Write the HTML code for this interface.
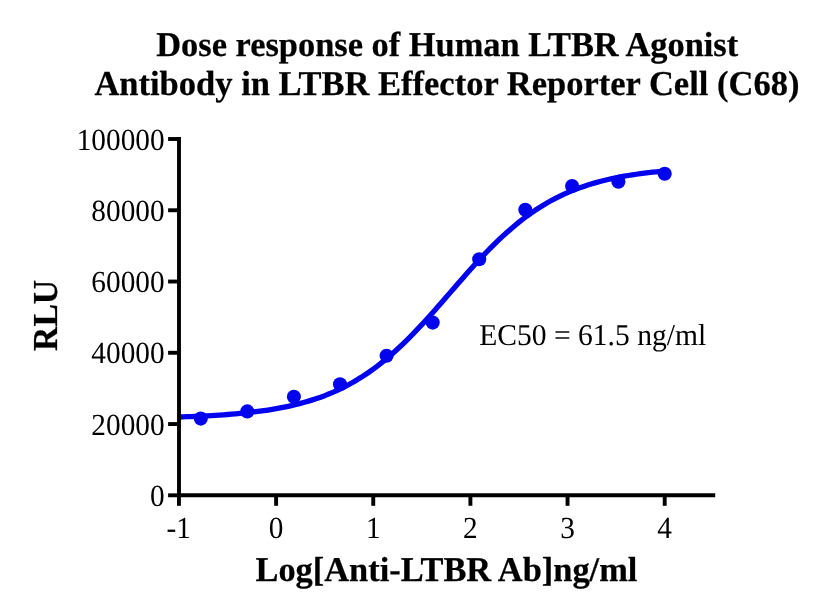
<!DOCTYPE html>
<html lang="en">
<head>
<meta charset="utf-8">
<title>Dose response of Human LTBR Agonist Antibody in LTBR Effector Reporter Cell (C68)</title>
<style>
html,body{margin:0;padding:0;background:#fff;}
body{width:824px;height:613px;overflow:hidden;font-family:"Liberation Serif",serif;}
svg{display:block;}
text{font-family:"Liberation Serif",serif;fill:#000;text-rendering:geometricPrecision;}
.b{font-weight:bold;font-size:34.4px;stroke:#000;stroke-width:0.25px;stroke-linejoin:round;}
.n{font-size:29.3px;}
</style>
</head>
<body>
<svg width="824" height="613" viewBox="0 0 824 613">
<rect width="824" height="613" fill="#fff"/>
<g class="b" text-anchor="middle">
<text transform="translate(447.2,56) scale(1,1.01)">Dose response of Human LTBR Agonist</text>
<text transform="translate(446.9,95) scale(1,1.01)" style="font-size:34.53px">Antibody in LTBR Effector Reporter Cell (C68)</text>
<text transform="translate(446.4,581) scale(1,1.01)">Log[Anti-LTBR Ab]ng/ml</text>
<text transform="translate(57,315.4) rotate(-90) scale(0.978,1.02)">RLU</text>
</g>
<g class="n">
<text transform="translate(164.6,506.00) scale(1,1.047)" text-anchor="end">0</text>
<text transform="translate(164.6,434.74) scale(1,1.047)" text-anchor="end">20000</text>
<text transform="translate(164.6,363.48) scale(1,1.047)" text-anchor="end">40000</text>
<text transform="translate(164.6,292.22) scale(1,1.047)" text-anchor="end">60000</text>
<text transform="translate(164.6,220.96) scale(1,1.047)" text-anchor="end">80000</text>
<text transform="translate(164.6,149.70) scale(1,1.047)" text-anchor="end">100000</text>
<text transform="translate(178.65,537.8) scale(1,1.047)" text-anchor="middle">-1</text>
<text transform="translate(276.10,537.8) scale(1,1.047)" text-anchor="middle">0</text>
<text transform="translate(373.25,537.8) scale(1,1.047)" text-anchor="middle">1</text>
<text transform="translate(470.40,537.8) scale(1,1.047)" text-anchor="middle">2</text>
<text transform="translate(567.55,537.8) scale(1,1.047)" text-anchor="middle">3</text>
<text transform="translate(664.70,537.8) scale(1,1.047)" text-anchor="middle">4</text>
<text transform="translate(479.15,344.8) scale(1,1.022)" style="font-size:29.58px">EC50 = 61.5 ng/ml</text>
</g>
<path d="M178.95,416.98 L183.00,416.85 L187.05,416.70 L191.09,416.55 L195.14,416.38 L199.19,416.20 L203.24,416.01 L207.29,415.80 L211.33,415.58 L215.38,415.34 L219.43,415.08 L223.48,414.80 L227.53,414.50 L231.57,414.18 L235.62,413.84 L239.67,413.47 L243.72,413.08 L247.76,412.65 L251.81,412.20 L255.86,411.71 L259.91,411.19 L263.96,410.63 L268.00,410.02 L272.05,409.38 L276.10,408.69 L280.15,407.95 L284.20,407.16 L288.24,406.31 L292.29,405.41 L296.34,404.45 L300.39,403.41 L304.44,402.31 L308.48,401.14 L312.53,399.89 L316.58,398.56 L320.63,397.14 L324.68,395.64 L328.72,394.04 L332.77,392.34 L336.82,390.54 L340.87,388.63 L344.91,386.61 L348.96,384.48 L353.01,382.23 L357.06,379.86 L361.11,377.36 L365.15,374.74 L369.20,371.99 L373.25,369.10 L377.30,366.09 L381.35,362.94 L385.39,359.66 L389.44,356.24 L393.49,352.70 L397.54,349.03 L401.59,345.23 L405.63,341.32 L409.68,337.29 L413.73,333.16 L417.78,328.92 L421.83,324.60 L425.87,320.19 L429.92,315.71 L433.97,311.17 L438.02,306.57 L442.06,301.94 L446.11,297.29 L450.16,292.62 L454.21,287.95 L458.26,283.29 L462.30,278.66 L466.35,274.06 L470.40,269.51 L474.45,265.03 L478.50,260.61 L482.54,256.28 L486.59,252.04 L490.64,247.89 L494.69,243.86 L498.74,239.93 L502.78,236.13 L506.83,232.44 L510.88,228.89 L514.93,225.46 L518.98,222.17 L523.02,219.01 L527.07,215.98 L531.12,213.09 L535.17,210.32 L539.21,207.69 L543.26,205.18 L547.31,202.80 L551.36,200.54 L555.41,198.39 L559.45,196.37 L563.50,194.45 L567.55,192.64 L571.60,190.93 L575.65,189.32 L579.69,187.81 L583.74,186.38 L587.79,185.04 L591.84,183.79 L595.89,182.61 L599.93,181.50 L603.98,180.46 L608.03,179.49 L612.08,178.58 L616.12,177.73 L620.17,176.94 L624.22,176.20 L628.27,175.50 L632.32,174.85 L636.36,174.25 L640.41,173.68 L644.46,173.16 L648.51,172.66 L652.56,172.21 L656.60,171.78 L660.65,171.38 L664.70,171.01" fill="none" stroke="#0303ee" stroke-width="5.3" stroke-linejoin="round" stroke-linecap="butt"/>
<g fill="#0303ee">
<circle cx="664.7" cy="173.7" r="7.05"/>
<circle cx="618.4" cy="181.8" r="7.05"/>
<circle cx="572.1" cy="186.1" r="7.05"/>
<circle cx="525.3" cy="209.7" r="7.05"/>
<circle cx="479.2" cy="259.2" r="7.05"/>
<circle cx="432.7" cy="322.6" r="7.05"/>
<circle cx="386.6" cy="355.8" r="7.05"/>
<circle cx="340" cy="384.3" r="7.05"/>
<circle cx="293.9" cy="396.8" r="7.05"/>
<circle cx="247.3" cy="411.4" r="7.05"/>
<circle cx="200.8" cy="418.6" r="7.05"/>
</g>
<g stroke="#000" stroke-width="3.9" fill="none" stroke-linecap="butt">
<path d="M179.0,137.05 V497.25"/>
<path d="M177.05,495.3 H715.2"/>
<path d="M168.1,495.30 H179.0"/>
<path d="M168.1,424.04 H179.0"/>
<path d="M168.1,352.78 H179.0"/>
<path d="M168.1,281.52 H179.0"/>
<path d="M168.1,210.26 H179.0"/>
<path d="M168.1,139.00 H179.0"/>
<path d="M178.95,495.3 V505.8"/>
<path d="M276.10,495.3 V505.8"/>
<path d="M373.25,495.3 V505.8"/>
<path d="M470.40,495.3 V505.8"/>
<path d="M567.55,495.3 V505.8"/>
<path d="M664.70,495.3 V505.8"/>
</g>
</svg>
</body>
</html>
